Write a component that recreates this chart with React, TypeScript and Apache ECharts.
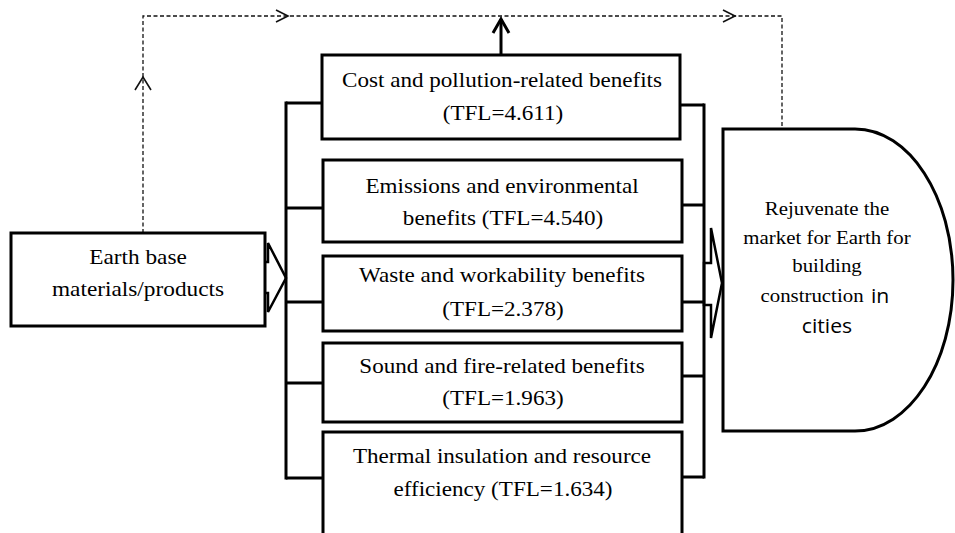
import React, { useEffect, useRef } from "react";
import * as echarts from "echarts";

// ---- content ----
const sourceLines = ["Earth base", "materials/products"];
const benefitTitles = [
  "Cost and pollution-related benefits",
  "Emissions and environmental",
  "Waste and workability benefits",
  "Sound and fire-related benefits",
  "Thermal insulation and resource",
];
const benefitSecondPrefix = ["", "benefits ", "", "", "efficiency "];
const tflValues = [4.611, 4.54, 2.378, 1.963, 1.634];
const targetLines = ["Rejuvenate the", "market for Earth for", "building"];

// ---- layout ----
const boxTop = [55, 160, 256, 343, 432];
const boxBottom = [139, 242, 331, 422, 600];
const boxLeft = [322, 323, 323, 323, 323];
const boxRight = [680, 682, 682, 682, 682];
const line1Y = [80, 186, 275, 366, 456];
const line2Y = [113, 218, 309, 398, 489];
const leftTapY = [103, 208, 302, 383, 478];
const rightTapY = [105, 205, 302, 376, 477];

const SERIF = "Liberation Serif";
const SANS = "Open Sans";

const dPath =
  "M723 129 L855 129 C909.1 129 953 196.6 953 280 C953 363.4 909.1 431 855 431 L723 431 Z";
echarts.graphic.registerShape("dshape", echarts.graphic.extendPath(dPath, {}) as any);

function serifText(text: string, x: number, y: number, size: number, sx = 1.05) {
  return {
    type: "text",
    x,
    y,
    scaleX: sx,
    style: {
      text,
      fill: "#000",
      fontSize: size,
      fontFamily: SERIF,
      textAlign: "center",
      textVerticalAlign: "middle",
    },
  };
}

export default function App() {
  const ref = useRef<HTMLDivElement>(null);
  useEffect(() => {
    document.body.style.margin = "0";
    const chart = echarts.init(ref.current!, null, { renderer: "svg" });
    const els: any[] = [];
    const black = "#000";
    const dashed = { stroke: "#111", lineWidth: 1.3, lineDash: [4, 2.5] };

    // dashed feedback path
    els.push({ type: "polyline", shape: { points: [[143, 233], [143, 16], [782, 16], [782, 129]] }, style: { ...dashed, fill: null } });
    const chev = { stroke: "#111", lineWidth: 1.6, fill: null };
    els.push({ type: "polyline", shape: { points: [[276, 10], [288, 16], [276, 22]] }, style: chev });
    els.push({ type: "polyline", shape: { points: [[723, 10], [735, 16], [723, 22]] }, style: chev });
    els.push({ type: "polyline", shape: { points: [[135, 90], [143, 77], [151, 90]] }, style: chev });

    // up arrow from cost box
    els.push({ type: "line", shape: { x1: 501, y1: 55, x2: 501, y2: 19 }, style: { stroke: black, lineWidth: 3 } });
    els.push({ type: "polyline", shape: { points: [[493, 33], [501, 19], [509, 33]] }, style: { stroke: black, lineWidth: 3, fill: null } });

    // hollow arrows
    els.push({
      type: "polygon",
      shape: { points: [[255, 262], [268, 262], [268, 243], [286, 278], [268, 312], [268, 293], [255, 293]] },
      style: { fill: "#fff", stroke: black, lineWidth: 2.5 },
    });
    els.push({
      type: "polygon",
      shape: { points: [[704, 263], [711, 263], [711, 228], [722, 283], [711, 338], [711, 305], [704, 305]] },
      style: { fill: "#fff", stroke: black, lineWidth: 2.5 },
    });

    // brackets
    const br = { stroke: black, lineWidth: 3, fill: null };
    els.push({
      type: "polyline",
      shape: { points: [[286, leftTapY[0] - 1.5], [286, leftTapY[4] + 1.5]] },
      style: br,
    });
    els.push({
      type: "polyline",
      shape: { points: [[704, rightTapY[0] - 1.5], [704, rightTapY[4] + 1.5]] },
      style: br,
    });
    leftTapY.forEach((y, i) => {
      els.push({ type: "polyline", shape: { points: [[286, y], [boxLeft[i], y]] }, style: br });
    });
    rightTapY.forEach((y, i) => {
      els.push({ type: "polyline", shape: { points: [[boxRight[i], y], [704, y]] }, style: br });
    });

    // source box
    els.push({ type: "rect", shape: { x: 11, y: 233, width: 254, height: 93 }, style: { fill: "#fff", stroke: black, lineWidth: 3 } });
    els.push(serifText(sourceLines[0], 138, 257, 22, 1.06));
    els.push(serifText(sourceLines[1], 138, 289, 22, 1.06));

    // benefit boxes
    benefitTitles.forEach((t, i) => {
      els.push({
        type: "rect",
        shape: { x: boxLeft[i], y: boxTop[i], width: boxRight[i] - boxLeft[i], height: boxBottom[i] - boxTop[i] },
        style: { fill: "#fff", stroke: black, lineWidth: 3 },
      });
      els.push(serifText(t, 502, line1Y[i], 22, 1.05));
      els.push(serifText(`${benefitSecondPrefix[i]}(TFL=${tflValues[i].toFixed(3)})`, 503, line2Y[i], 22, 1.05));
    });

    // target D shape
    els.push({ type: "dshape", x: 0, y: 0, style: { fill: "#fff", stroke: black, lineWidth: 3 } });
    const ty = [208, 237, 265];
    targetLines.forEach((t, i) => els.push(serifText(t, 827, ty[i], 19.5, 1.07)));
    els.push(serifText("construction", 812, 295, 19.5, 1.07));
    els.push({
      type: "text",
      x: 871,
      y: 295,
      scaleX: 1.06,
      style: { text: "in", fill: "#000", fontSize: 20, fontFamily: SANS, textAlign: "left", textVerticalAlign: "middle" },
    });
    els.push({
      type: "text",
      x: 827,
      y: 325,
      scaleX: 1.06,
      style: { text: "cities", fill: "#000", fontSize: 20, fontFamily: SANS, textAlign: "center", textVerticalAlign: "middle" },
    });

    chart.setOption({ animation: false, backgroundColor: "#fff", graphic: { elements: els } });
    return () => chart.dispose();
  }, []);
  return <div ref={ref} style={{ position: "fixed", left: 0, top: 0, width: 955, height: 533 }} />;
}
